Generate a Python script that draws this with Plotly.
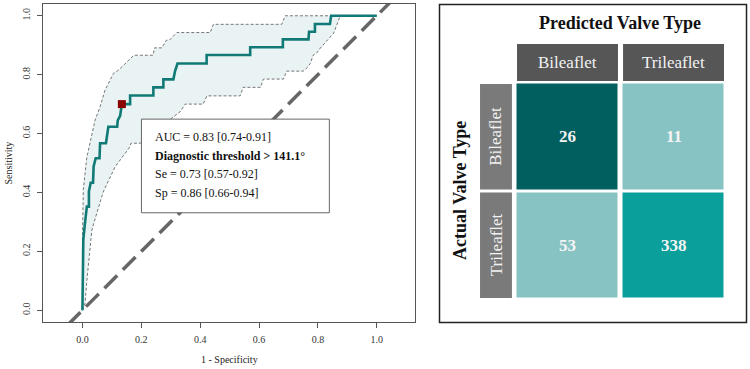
import plotly.graph_objects as go

# ---------------- data ----------------
roc_fpr = [0, 0.002, 0.003, 0.008, 0.012, 0.015, 0.022, 0.022, 0.028, 0.036, 0.038, 0.045, 0.058, 0.060,
           0.080, 0.085, 0.088, 0.118, 0.120, 0.128, 0.134, 0.162, 0.162, 0.241, 0.241, 0.275, 0.275,
           0.309, 0.315, 0.323, 0.422, 0.422, 0.570, 0.570, 0.681, 0.681, 0.768, 0.770, 0.790, 0.790,
           0.841, 0.845, 1.0]
roc_tpr = [0, 0.12, 0.24, 0.29, 0.33, 0.352, 0.352, 0.403, 0.433, 0.433, 0.488, 0.516, 0.516, 0.567,
           0.567, 0.595, 0.623, 0.623, 0.645, 0.66, 0.700, 0.700, 0.729, 0.729, 0.757, 0.757, 0.784,
           0.784, 0.813, 0.838, 0.838, 0.867, 0.867, 0.893, 0.893, 0.920, 0.920, 0.946, 0.946, 0.972,
           0.972, 1.0, 1.0]

ci_up_fpr = [0, 0.0, 0.003, 0.015, 0.028, 0.043, 0.060, 0.077, 0.088, 0.105, 0.122, 0.145, 0.156, 0.175,
             0.240, 0.245, 0.270, 0.285, 0.295, 0.321, 0.434, 0.445, 0.677, 0.689, 1.0]
ci_up_tpr = [0, 0.24, 0.41, 0.52, 0.578, 0.646, 0.691, 0.748, 0.77, 0.804, 0.815, 0.838, 0.849, 0.866,
             0.866, 0.891, 0.891, 0.917, 0.917, 0.943, 0.943, 0.971, 0.971, 1.0, 1.0]

ci_lo_fpr = [0, 0.009, 0.014, 0.020, 0.026, 0.032, 0.040, 0.049, 0.060, 0.070, 0.083, 0.095, 0.111, 0.128,
             0.145, 0.158, 0.165, 0.196, 0.22, 0.26, 0.30, 0.332, 0.349, 0.410, 0.423, 0.536, 0.546,
             0.605, 0.615, 0.683, 0.694, 0.750, 0.765, 0.774, 0.784, 0.800, 0.808, 0.836, 0.853, 0.864,
             0.876, 1.0]
ci_lo_tpr = [0, 0.024, 0.09, 0.16, 0.22, 0.272, 0.30, 0.33, 0.374, 0.40, 0.428, 0.455, 0.487, 0.51,
             0.533, 0.55, 0.567, 0.567, 0.59, 0.62, 0.65, 0.674, 0.70, 0.70, 0.728, 0.728, 0.757,
             0.757, 0.785, 0.785, 0.812, 0.812, 0.825, 0.838, 0.866, 0.878, 0.89, 0.92, 0.94, 0.968,
             1.0, 1.0]

best_fpr = [0.134]
best_tpr = [0.700]

x_ticks = [0.0, 0.2, 0.4, 0.6, 0.8, 1.0]
x_tick_labels = ["0.0", "0.2", "0.4", "0.6", "0.8", "1.0"]
y_ticks = [0.0, 0.2, 0.4, 0.6, 0.8, 1.0]
y_tick_labels = ["0.0", "0.2", "0.4", "0.6", "0.8", "1.0"]

legend_lines = ["AUC = 0.83 [0.74-0.91]",
                "<b>Diagnostic threshold > 141.1°</b>",
                "Se = 0.73 [0.57-0.92]",
                "Sp = 0.86 [0.66-0.94]"]

pred_labels = ["Bileaflet", "Trileaflet"]
actual_labels = ["Bileaflet", "Trileaflet"]
counts = [[26, 11],
          [53, 338]]
cell_colors = [["#015f5f", "#88c3c3"],
               ["#88c3c3", "#0b9f9b"]]

# ---------------- figure ----------------
SERIF = "Liberation Serif"
fig = go.Figure()

# CI band fill
fig.add_trace(go.Scatter(
    x=ci_up_fpr + ci_lo_fpr[::-1], y=ci_up_tpr + ci_lo_tpr[::-1],
    fill="toself", fillcolor="#e9f3f3", line=dict(width=0), mode="lines",
    hoverinfo="skip", showlegend=False))
# CI dashed lines
for xs, ys in ((ci_up_fpr, ci_up_tpr), (ci_lo_fpr, ci_lo_tpr)):
    fig.add_trace(go.Scatter(x=xs, y=ys, mode="lines",
                             line=dict(color="#666666", width=0.9, dash="3px,2px"),
                             hoverinfo="skip", showlegend=False))
# diagonal reference
fig.add_trace(go.Scatter(x=[-0.3, 1.3], y=[-0.3, 1.3], mode="lines",
                         line=dict(color="#666666", width=3.5, dash="18px,8px"),
                         hoverinfo="skip", showlegend=False))
# ROC curve
fig.add_trace(go.Scatter(x=roc_fpr, y=roc_tpr, mode="lines",
                         line=dict(color="#127a76", width=2.6),
                         hoverinfo="skip", showlegend=False))
# best threshold
fig.add_trace(go.Scatter(x=best_fpr, y=best_tpr, mode="markers",
                         marker=dict(symbol="square", size=8, color="#8b0000"),
                         hoverinfo="skip", showlegend=False))

# confusion matrix heatmap (color per cell index)
n_r, n_c = len(actual_labels), len(pred_labels)
flat_colors = [cell_colors[i][j] for i in range(n_r) for j in range(n_c)]
idx = [[i * n_c + j for j in range(n_c)] for i in range(n_r)]
nmax = n_r * n_c - 1
cscale = [[k / nmax, c] for k, c in enumerate(flat_colors)]
fig.add_trace(go.Heatmap(
    x=list(range(n_c)), y=list(range(n_r)), z=idx,
    colorscale=cscale, zmin=0, zmax=nmax, showscale=False,
    xgap=5, ygap=3, hoverinfo="skip", xaxis="x2", yaxis="y2"))

shapes = []
annotations = []

def ann(**kw):
    base = dict(showarrow=False, xanchor="center", yanchor="middle")
    base.update(kw)
    annotations.append(base)

# legend box on ROC panel
shapes.append(dict(type="rect", xref="x", yref="y", x0=0.2005, x1=0.839, y0=0.331, y1=0.649,
                   fillcolor="white", line=dict(color="#666666", width=1), layer="above"))
for k, txt in enumerate(legend_lines):
    ann(xref="x", yref="y", x=0.241, y=0.589 - k * 0.064, text=txt, xanchor="left",
        font=dict(family=SERIF, size=12, color="#111111"))

# axis titles
ann(xref="paper", yref="paper", x=229 / 750, y=1 - 359 / 369, text="1 - Specificity",
    font=dict(family=SERIF, size=10, color="#222222"))
ann(xref="paper", yref="paper", x=7.5 / 750, y=1 - 163 / 369, text="Sensitivity", textangle=-90,
    font=dict(family=SERIF, size=10, color="#222222"))

# matrix frame
shapes.append(dict(type="rect", xref="paper", yref="paper",
                   x0=439.5 / 750, x1=746.5 / 750, y0=1 - 322.5 / 369, y1=1 - 4.5 / 369,
                   line=dict(color="#222222", width=1.5)))

# column headers
for j, lab in enumerate(pred_labels):
    shapes.append(dict(type="rect", xref="x2", yref="y2", x0=j - 0.476, x1=j + 0.476,
                       y0=-0.855, y1=-0.514, fillcolor="#565656", line=dict(width=0)))
    ann(xref="x2", yref="y2", x=j, y=-0.684, text=lab,
        font=dict(family=SERIF, size=17, color="#f2f2f2"))
# row headers
for i, lab in enumerate(actual_labels):
    shapes.append(dict(type="rect", xref="x2", yref="y2", x0=-0.825, x1=-0.524,
                       y0=i - 0.486, y1=i + 0.486, fillcolor="#7a7a7a", line=dict(width=0)))
    ann(xref="x2", yref="y2", x=-0.674, y=i, text=lab, textangle=-90,
        font=dict(family=SERIF, size=17, color="#f2f2f2"))
# counts
for i in range(n_r):
    for j in range(n_c):
        ann(xref="x2", yref="y2", x=j, y=i, text=f"<b>{counts[i][j]}</b>",
            font=dict(family=SERIF, size=17, color="#f4f4f4"))

ann(xref="paper", yref="paper", x=620 / 750, y=1 - 23 / 369, text="<b>Predicted Valve Type</b>",
    font=dict(family=SERIF, size=18, color="#111111"))
ann(xref="paper", yref="paper", x=460 / 750, y=1 - 190 / 369, text="<b>Actual Valve Type</b>",
    textangle=-90, font=dict(family=SERIF, size=18, color="#111111"))

axis_font = dict(family=SERIF, size=10, color="#333333")
fig.update_layout(
    width=750, height=369, margin=dict(l=0, r=0, t=0, b=0),
    paper_bgcolor="white", plot_bgcolor="white", showlegend=False,
    xaxis=dict(domain=[43 / 750, 415 / 750], range=[-0.134, 1.13], tickvals=x_ticks,
               ticktext=x_tick_labels, showline=True, mirror=True, linecolor="#555555",
               linewidth=1, ticks="outside", ticklen=5, tickcolor="#555555",
               ticklabelstandoff=3,
               showgrid=False, zeroline=False, tickfont=axis_font, anchor="y"),
    yaxis=dict(domain=[1 - 322 / 369, 1 - 4 / 369], range=[-0.04, 1.04], tickvals=y_ticks,
               ticktext=y_tick_labels, tickangle=-90, showline=True, mirror=True,
               linecolor="#555555", linewidth=1, ticks="outside", ticklen=5,
               ticklabelstandoff=3,
               tickcolor="#555555", showgrid=False, zeroline=False, tickfont=axis_font,
               anchor="x"),
    xaxis2=dict(domain=[439 / 750, 747 / 750], range=[-1.212, 1.693], visible=False,
                anchor="y2", fixedrange=True),
    yaxis2=dict(domain=[1 - 323 / 369, 1 - 4 / 369], range=[1.7166, -1.2235], visible=False,
                anchor="x2", fixedrange=True),
    shapes=shapes, annotations=annotations,
)

fig.write_html("out.html")
